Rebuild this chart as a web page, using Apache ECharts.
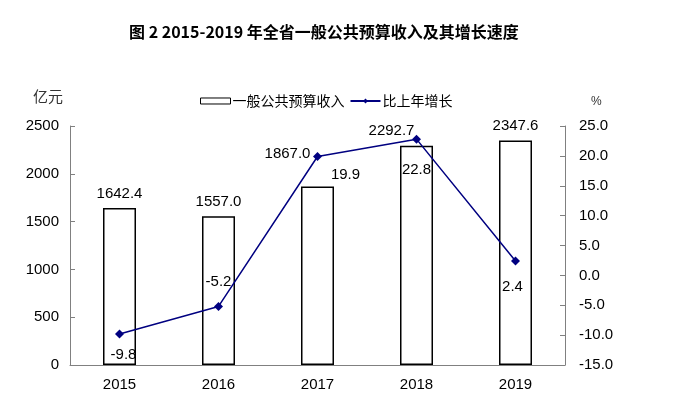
<!DOCTYPE html>
<html>
<head>
<meta charset="utf-8">
<script src="https://cdn.jsdelivr.net/npm/echarts@6/dist/echarts.min.js"></script>
<style>
  html, body { margin: 0; padding: 0; background: #fff; }
  #main { width: 674px; height: 398px; }
</style>
</head>
<body>
<div id="main"></div>
<script>
// 数据
var years = ['2015', '2016', '2017', '2018', '2019'];
var revenue = [1642.4, 1557.0, 1867.0, 2292.7, 2347.6];
var growth = [-9.8, -5.2, 19.9, 22.8, 2.4];

// 标签偏移（手动摆放，跟原图一致）
var barLabelOffset = [[0, 0], [0, 0], [-30, -18], [-25, 0], [0, 0]];
var lineLabelOffset = [[4, 21], [0, -25], [28, 18], [0, 31], [-3, 26]];

var fontLatin = 'Liberation Sans, Arial, sans-serif';
var fontCn = 'Noto Sans CJK SC, sans-serif';
var axisGray = '#808080';

var barData = revenue.map(function(v, i) {
  return {
    value: v,
    label: { offset: barLabelOffset[i] }
  };
});
var lineData = growth.map(function(v, i) {
  return {
    value: v,
    label: { offset: lineLabelOffset[i] }
  };
});

var option = {
  animation: false,
  backgroundColor: '#fff',
  title: {
    text: '图 2 2015-2019 年全省一般公共预算收入及其增长速度',
    left: 124,
    top: 19,
    textStyle: {
      fontFamily: fontCn,
      fontSize: 16,
      fontWeight: 'bold',
      color: '#000'
    }
  },
  legend: {
    left: 195,
    top: 89,
    itemWidth: 30,
    itemHeight: 6,
    itemGap: 5,
    textStyle: {
      fontFamily: fontCn,
      fontSize: 14,
      color: '#000',
      padding: [0, 0, 0, -3]
    },
    data: [
      { name: '一般公共预算收入', icon: 'rect', itemStyle: { color: '#fff', borderColor: '#000', borderWidth: 1 } },
      { name: '比上年增长' }
    ]
  },
  graphic: [
    {
      type: 'text',
      left: 33,
      top: 89,
      style: { text: '亿元', font: '15px ' + fontCn, fill: '#333' }
    },
    {
      type: 'text',
      left: 591,
      top: 96,
      style: { text: '%', font: '12px ' + fontLatin, fill: '#333' }
    }
  ],
  grid: {
    left: 70,
    right: 109,
    top: 126,
    bottom: 33
  },
  xAxis: {
    type: 'category',
    data: years,
    axisLine: { lineStyle: { color: axisGray, width: 1 } },
    axisTick: { inside: true, length: 5, lineStyle: { color: axisGray } },
    axisLabel: {
      fontFamily: fontLatin,
      fontSize: 15,
      color: '#000',
      margin: 12
    }
  },
  yAxis: [
    {
      type: 'value',
      min: 0,
      max: 2500,
      interval: 500,
      splitLine: { show: false },
      axisLine: { show: true, lineStyle: { color: axisGray } },
      axisTick: { show: true, inside: true, length: 5, lineStyle: { color: axisGray } },
      axisLabel: {
        fontFamily: fontLatin,
        fontSize: 15,
        color: '#000',
        margin: 11,
        formatter: function(v) {
          return String(v);
        }
      }
    },
    {
      type: 'value',
      min: -15,
      max: 25,
      interval: 5,
      splitLine: { show: false },
      axisLine: { show: true, lineStyle: { color: axisGray } },
      axisTick: { show: true, inside: true, length: 5, lineStyle: { color: axisGray } },
      axisLabel: {
        fontFamily: fontLatin,
        fontSize: 15,
        color: '#000',
        margin: 14,
        formatter: function(v) {
          return v.toFixed(1);
        }
      }
    }
  ],
  series: [
    {
      name: '一般公共预算收入',
      type: 'bar',
      data: barData,
      barWidth: 33,
      itemStyle: {
        color: '#fff',
        borderColor: '#000',
        borderWidth: 1.5
      },
      label: {
        show: true,
        position: 'top',
        distance: 7,
        fontFamily: fontLatin,
        fontSize: 15,
        color: '#000',
        formatter: function(p) {
          return p.value.toFixed(1);
        }
      }
    },
    {
      name: '比上年增长',
      type: 'line',
      yAxisIndex: 1,
      data: lineData,
      symbol: 'diamond',
      symbolSize: 9,
      itemStyle: { color: '#000080' },
      lineStyle: { color: '#000080', width: 1.5 },
      label: {
        show: true,
        position: 'inside',
        fontFamily: fontLatin,
        fontSize: 15,
        color: '#000',
        formatter: function(p) {
          return p.value.toFixed(1);
        }
      }
    }
  ]
};

var myChart = echarts.init(document.getElementById('main'));
myChart.setOption(option);
</script>
</body>
</html>
